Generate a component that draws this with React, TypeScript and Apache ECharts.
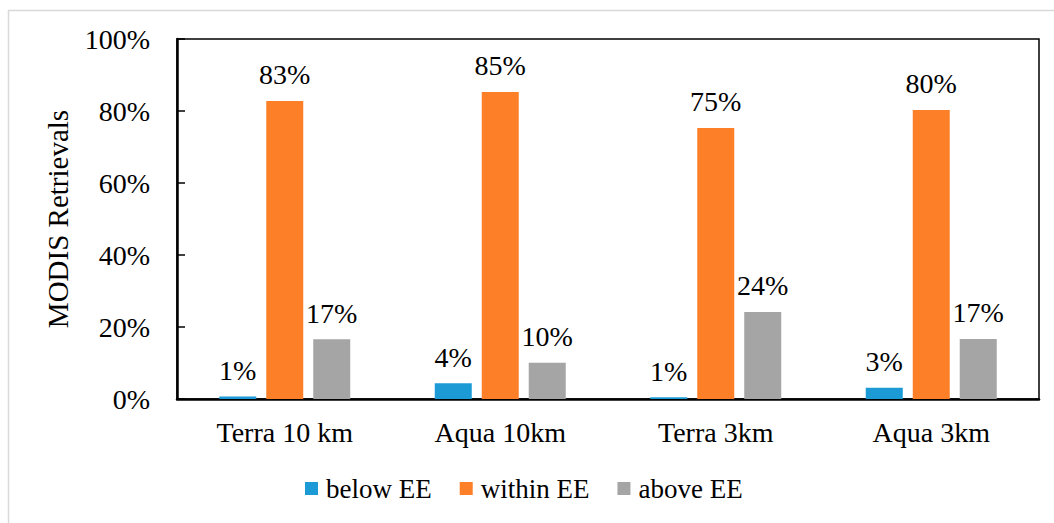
import React, { useEffect, useRef } from "react";
import * as echarts from "echarts";

const categories = ["Terra 10 km", "Aqua 10km", "Terra 3km", "Aqua 3km"];
const belowEE = [0.7, 4.4, 0.5, 3.1];
const withinEE = [82.8, 85.3, 75.3, 80.3];
const aboveEE = [16.6, 10.1, 24.2, 16.7];
const yTicks = [0, 20, 40, 60, 80, 100];

const FONT = "'Times New Roman', 'Liberation Serif', 'DejaVu Serif', serif";

export default function App() {
  const ref = useRef<HTMLDivElement>(null);
  useEffect(() => {
    if (!ref.current) return;
    const chart = echarts.init(ref.current, null, { renderer: "svg" });
    const label = {
      show: true,
      position: "top",
      distance: 12,
      color: "#000",
      fontFamily: FONT,
      fontSize: 28,
      formatter: (p: any) => Math.round(p.value) + "%",
    };
    const mk = (name: string, data: number[], color: string) => ({
      name,
      type: "bar",
      data,
      barWidth: 37,
      barGap: "27%",
      itemStyle: { color },
      label,
    });
    chart.setOption({
      animation: false,
      backgroundColor: "#fff",
      textStyle: { fontFamily: FONT, fontSize: 28 },
      grid: {
        left: 177,
        right: 15,
        top: 39,
        bottom: 124,
        show: true,
        borderColor: "#000",
        borderWidth: 1.5,
      },
      xAxis: {
        type: "category",
        data: categories,
        axisLine: { lineStyle: { color: "#000", width: 2.5 } },
        axisTick: { show: false },
        axisLabel: { color: "#000", fontFamily: FONT, fontSize: 28, margin: 19 },
      },
      yAxis: {
        type: "value",
        min: yTicks[0],
        max: yTicks[yTicks.length - 1],
        interval: 20,
        axisLine: { show: true, lineStyle: { color: "#000", width: 2.5 } },
        axisTick: { show: true, inside: true, length: 8, lineStyle: { color: "#000", width: 1.5 } },
        splitLine: { show: false },
        axisLabel: {
          color: "#000",
          fontFamily: FONT,
          fontSize: 28,
          margin: 27,
          formatter: (v: number) => v + "%",
        },
      },
      legend: {
        left: 305,
        top: 475,
        padding: 0,
        itemWidth: 13,
        itemHeight: 13,
        itemGap: 28,
        icon: "rect",
        textStyle: { color: "#000", fontFamily: FONT, fontSize: 27, padding: [0, 0, 0, 3] },
        data: ["below EE", "within EE", "above EE"],
      },
      graphic: [
        {
          type: "rect",
          shape: { x: 8.5, y: 10.5, width: 1100, height: 600 },
          style: { fill: "none", stroke: "#d9d9d9", lineWidth: 1.5 },
          silent: true,
        },
        {
          type: "text",
          x: 58,
          y: 219,
          rotation: Math.PI / 2,
          style: {
            text: "MODIS Retrievals",
            fill: "#000",
            fontFamily: FONT,
            fontSize: 29,
            align: "center",
            verticalAlign: "middle",
          },
        },
      ],
      series: [
        mk("below EE", belowEE, "#1B9AD6"),
        mk("within EE", withinEE, "#FD7F28"),
        mk("above EE", aboveEE, "#A5A5A5"),
      ],
    });
    return () => chart.dispose();
  }, []);
  return <div ref={ref} style={{ width: 1054, height: 523, position: "absolute", left: 0, top: 0 }} />;
}
